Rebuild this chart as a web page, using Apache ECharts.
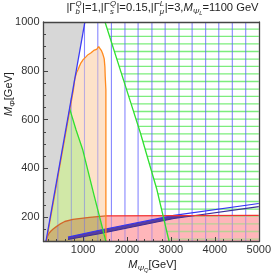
<!DOCTYPE html>
<html><head><meta charset="utf-8">
<script src="https://cdn.jsdelivr.net/npm/echarts@6/dist/echarts.min.js"></script>
<style>html,body{margin:0;padding:0;background:#fff}#c{width:274px;height:275px}</style>
</head><body><div id="c"></div>
<script>
// ---------------- data ----------------
const xRange = [100, 5000];
const yRange = [100, 1000];
const xTickLabels = [1000, 2000, 3000, 4000, 5000];
const yTickLabels = [200, 400, 600, 800, 1000];

// blue diagonal boundary (gray region is to its left)
const diagonalLine = [[155, 100], [1042, 1000]];
const grayRegion = [[100, 100], [155, 100], [1042, 1000], [100, 1000]];

// orange region: along the diagonal, noisy top, vertical right edge
const orangeRegion = [[165, 100], [780, 722], [810, 765], [850, 792], [882, 803], [915, 818],
  [945, 830], [970, 836], [995, 844], [1015, 841], [1035, 852], [1060, 856], [1085, 861],
  [1107, 865], [1125, 862], [1150, 870], [1183, 874], [1205, 881], [1228, 877], [1258, 885],
  [1285, 891], [1310, 888], [1335, 896], [1354, 899], [1370, 903], [1386, 892], [1415, 884],
  [1444, 872], [1468, 858], [1482, 849], [1498, 815], [1505, 776], [1520, 721], [1520, 100]];

// green filled region (left of the green curve, right of the diagonal)
const greenRegion = [[155, 100], [693, 646], [840, 558], [995, 475], [1250, 290], [1520, 100]];
// green boundary on the right (horizontal mesh to its right)
const greenRightLine = [[1500, 1000], [2042, 694], [2306, 545], [2493, 429], [2681, 313], [2960, 100]];

// pink / red region top boundary
const pinkTop = [[160, 100], [175, 115], [220, 132], [270, 143], [320, 151], [400, 162], [471, 171],
  [583, 182], [770, 191], [1143, 199], [1520, 205], [5000, 207]];

// thin purple band
const bandUpper = [[657, 118], [1370, 146], [3068, 207], [5000, 256]];
const bandLower = [[657, 108], [1370, 132], [3068, 194], [5000, 243]];

// mesh lines
const verticalMeshX = [426, 734, 1033, 1336, 1646, 1954, 2253, 2568, 2869, 3184, 3483, 3791, 4090, 4398, 4703];
const horizontalMeshY = [971, 941, 910, 879, 848, 818, 787, 756, 725, 695, 664, 633, 602, 572, 541,
  510, 479, 449, 418, 387, 356, 326, 295, 264, 233, 203, 172, 141, 110];

// ---------------- helpers ----------------
const FONT = '"Liberation Sans", Arial, Helvetica, sans-serif';
const FRAME = '#444';

function interpX(line, y) {
  for (let i = 0; i < line.length - 1; i++) {
    const a = line[i], b = line[i + 1];
    if ((y - a[1]) * (y - b[1]) <= 0 && a[1] !== b[1]) return a[0] + (y - a[1]) / (b[1] - a[1]) * (b[0] - a[0]);
  }
  return null;
}
function interpY(line, x) {
  for (let i = 0; i < line.length - 1; i++) {
    const a = line[i], b = line[i + 1];
    if ((x - a[0]) * (x - b[0]) <= 0 && a[0] !== b[0]) return a[1] + (x - a[0]) / (b[0] - a[0]) * (b[1] - a[1]);
  }
  return x < line[0][0] ? line[0][1] : line[line.length - 1][1];
}
function clipPoly(subject, clip) { // Sutherland–Hodgman, clip convex
  let area = 0;
  for (let i = 0; i < clip.length; i++) { const p = clip[i], q = clip[(i + 1) % clip.length]; area += p[0] * q[1] - q[0] * p[1]; }
  const s = area > 0 ? 1 : -1;
  let out = subject.slice();
  for (let i = 0; i < clip.length && out.length; i++) {
    const a = clip[i], b = clip[(i + 1) % clip.length];
    const inside = p => s * ((b[0] - a[0]) * (p[1] - a[1]) - (b[1] - a[1]) * (p[0] - a[0])) >= 0;
    const inter = (p, q) => {
      const d = (p[0] - q[0]) * (a[1] - b[1]) - (p[1] - q[1]) * (a[0] - b[0]);
      const t = ((p[0] - a[0]) * (a[1] - b[1]) - (p[1] - a[1]) * (a[0] - b[0])) / d;
      return [p[0] + t * (q[0] - p[0]), p[1] + t * (q[1] - p[1])];
    };
    const inp = out; out = [];
    for (let j = 0; j < inp.length; j++) {
      const cur = inp[j], prev = inp[(j + inp.length - 1) % inp.length];
      const ci = inside(cur), pi = inside(prev);
      if (ci) { if (!pi) out.push(inter(prev, cur)); out.push(cur); }
      else if (pi) out.push(inter(prev, cur));
    }
  }
  return out;
}
function inPoly(p, poly) {
  let c = false;
  for (let i = 0, j = poly.length - 1; i < poly.length; j = i++) {
    const a = poly[i], b = poly[j];
    if (((a[1] > p[1]) !== (b[1] > p[1])) && (p[0] < (b[0] - a[0]) * (p[1] - a[1]) / (b[1] - a[1]) + a[0])) c = !c;
  }
  return c;
}

const pinkRegion = pinkTop.concat([[xRange[1], yRange[0]]]);
const orangeEdgeX = Math.max(...orangeRegion.map(p => p[0]));
const orangeLowerQuad = [orangeRegion[0], orangeRegion[1], [orangeEdgeX, orangeRegion[1][1]], [orangeEdgeX, yRange[0]]];
const salmonRegion = clipPoly(pinkRegion, orangeLowerQuad);
const oliveRegion = clipPoly(pinkRegion, greenRegion);
const bandRegion = bandUpper.concat(bandLower.slice().reverse());
const bandInPink = clipPoly(bandRegion, pinkRegion);

const fills = [
  { poly: pinkRegion, rgb: [255, 182, 186] },
  { poly: orangeRegion, rgb: [253, 226, 201] },
  { poly: salmonRegion, rgb: [248, 185, 166] },
  { poly: greenRegion, rgb: [209, 232, 167] },
  { poly: oliveRegion, rgb: [203, 181, 120] }
];
const rgbStr = c => 'rgb(' + c.map(Math.round).join(',') + ')';
const mix = (a, b, t) => a.map((v, i) => v * (1 - t) + b[i] * t);
function zoneAt(p) { for (let k = fills.length - 1; k >= 0; k--) if (inPoly(p, fills[k].poly)) return k; return -1; }
// split a mesh line into pieces according to the fill zone underneath
function zoneSegments(p0, p1, n) {
  const out = []; let start = p0, zPrev = null, last = p0;
  for (let i = 0; i <= n; i++) {
    const t = i / n, p = [p0[0] + (p1[0] - p0[0]) * t, p0[1] + (p1[1] - p0[1]) * t];
    const mid = i === 0 ? p : [(p[0] + last[0]) / 2, (p[1] + last[1]) / 2];
    const z = zoneAt(mid);
    if (zPrev === null) zPrev = z;
    if (z !== zPrev) { out.push([start[0], start[1], last[0], last[1], zPrev]); start = last; zPrev = z; }
    last = p;
  }
  out.push([start[0], start[1], p1[0], p1[1], zPrev]);
  return out;
}

function polygonSeries(points, style, z) {
  return {
    type: 'custom', coordinateSystem: 'cartesian2d', xAxisIndex: 0, yAxisIndex: 0, silent: true,
    clip: true, z: z, animation: false, data: [points[0]],
    renderItem: (params, api) => ({ type: 'polygon', shape: { points: points.map(p => api.coord(p)) }, style: style })
  };
}
function lineSeries(points, color, width, z) {
  return {
    type: 'line', xAxisIndex: 0, yAxisIndex: 0, data: points, symbol: 'none', silent: true, clip: true,
    animation: false, z: z, lineStyle: { color: color, width: width }
  };
}
function meshSeries(segments, baseRgb, whiteAlpha, fillT, width, z) {
  return {
    type: 'custom', coordinateSystem: 'cartesian2d', xAxisIndex: 0, yAxisIndex: 0, silent: true, clip: true,
    z: z, animation: false, data: segments,
    renderItem: (params, api) => {
      const a = api.coord([api.value(0), api.value(1)]), b = api.coord([api.value(2), api.value(3)]);
      const zone = api.value(4);
      const stroke = zone < 0 ? 'rgba(' + baseRgb.join(',') + ',' + whiteAlpha + ')' : rgbStr(mix(fills[zone].rgb, baseRgb, fillT));
      return { type: 'line', shape: { x1: a[0], y1: a[1], x2: b[0], y2: b[1] }, style: { stroke: stroke, lineWidth: width } };
    }
  };
}

const series = [];
series.push(polygonSeries(grayRegion, { fill: '#d7d7d7' }, 1));
fills.forEach((f, i) => series.push(polygonSeries(f.poly, { fill: rgbStr(f.rgb) }, 2 + i)));

// horizontal green mesh (right of the green right boundary)
let hSegs = [];
horizontalMeshY.forEach(y => { hSegs = hSegs.concat(zoneSegments([interpX(greenRightLine, y), y], [xRange[1], y], 300)); });
series.push(meshSeries(hSegs, [110, 235, 110], 0.9, 0.5, 1.3, 10));
// vertical blue mesh (right of the diagonal)
let vSegs = [];
verticalMeshX.forEach(x => { vSegs = vSegs.concat(zoneSegments([x, yRange[0]], [x, Math.min(yRange[1], interpY(diagonalLine, x))], 300)); });
series.push(meshSeries(vSegs, [95, 95, 255], 0.75, 0.42, 1.1, 11));

// purple band
series.push(polygonSeries(bandInPink, { fill: '#5a3d9e' }, 20));
series.push(lineSeries(bandLower, '#3b2d96', 1.1, 21));
series.push(lineSeries(bandUpper, '#3434f0', 1.1, 21));

// pink top boundary: dark orange inside the orange region, red outside
series.push(lineSeries(pinkTop.filter(p => p[0] <= orangeEdgeX), '#d2662a', 1.3, 22));
series.push(lineSeries(pinkTop.filter(p => p[0] >= orangeEdgeX), '#f23030', 1.3, 22));
// orange boundary
series.push(lineSeries(orangeRegion, '#ff8a1e', 1.3, 23));
// green boundaries
series.push(lineSeries(greenRegion.slice(1), '#2fe02f', 1.3, 24));
series.push(lineSeries(greenRightLine, '#2fe02f', 1.3, 24));
// blue diagonal
series.push(lineSeries(diagonalLine, '#3a3af5', 1.3, 25));

// minor tick positions
const xMinor = [], yMinor = [];
for (let v = 200; v < 5000; v += 200) if (v % 1000) xMinor.push(v);
for (let v = 150; v < 1000; v += 50) if (v % 200) yMinor.push(v);

// ---------------- math-like text built from positioned text pieces ----------------
const mctx = document.createElement('canvas').getContext('2d');
function fontStr(size, italic) { return (italic ? 'italic ' : '') + size + 'px ' + FONT; }
function measure(t, size, italic) { mctx.font = fontStr(size, italic); return mctx.measureText(t).width; }
function mathGraphic(tokens, cx, cy, rotation) {
  let x = 0; const els = [];
  tokens.forEach(tok => {
    if (tok.stack) {
      const w = Math.max(...tok.stack.map(s => measure(s.t, s.size, s.italic)));
      tok.stack.forEach(s => els.push(Object.assign({ x: x }, s)));
      x += w + 0.5;
    } else {
      els.push(Object.assign({ x: x }, tok));
      x += measure(tok.t, tok.size, tok.italic);
    }
  });
  const width = x;
  return {
    type: 'group', x: cx, y: cy, rotation: rotation || 0, silent: true,
    children: els.map(e => ({
      type: 'text', x: e.x - width / 2, y: e.dy || 0,
      style: { text: e.t, font: fontStr(e.size, e.italic), fill: '#222', textAlign: 'left', textVerticalAlign: 'middle', align: 'left', verticalAlign: 'middle' }
    }))
  };
}
const T = 11.2, S = 7.8;
const titleTokens = [
  { t: '|Γ', size: T },
  { stack: [{ t: 'Q', size: S, italic: true, dy: -3.8 }, { t: 'b', size: S, italic: true, dy: 3.6 }] },
  { t: '|=1,|Γ', size: T },
  { stack: [{ t: 'Q', size: S, italic: true, dy: -3.8 }, { t: 's', size: S, italic: true, dy: 3.6 }] },
  { t: '|=0.15,|Γ', size: T },
  { stack: [{ t: 'L', size: S, italic: true, dy: -3.8 }, { t: 'μ', size: S, italic: true, dy: 3.6 }] },
  { t: '|=3,', size: T },
  { t: 'M', size: T, italic: true },
  { t: 'Ψ', size: S, italic: true, dy: 3.4 },
  { t: 'L', size: 5.8, italic: true, dy: 5.6 },
  { t: '=1100 GeV', size: T }
];
const xNameTokens = [
  { t: 'M', size: 11, italic: true },
  { t: 'Ψ', size: 7.8, italic: true, dy: 3.4 },
  { t: 'Q', size: 5.8, italic: true, dy: 5.6 },
  { t: '[GeV]', size: 11 }
];
const yNameTokens = [
  { t: 'M', size: 11, italic: true },
  { t: 'Φ', size: 7.8, italic: true, dy: 3.4 },
  { t: '[GeV]', size: 11 }
];

const chart = echarts.init(document.getElementById('c'), null, { renderer: 'canvas', width: 274, height: 275 });
const axisCommon = { splitLine: { show: false }, z: 50 };
const plain = v => String(v);
chart.setOption({
  animation: false,
  backgroundColor: '#ffffff',
  grid: { left: 43.5, right: 12.5, top: 22, bottom: 33.5, containLabel: false },
  xAxis: [
    Object.assign({
      type: 'value', min: xRange[0], max: xRange[1], position: 'bottom',
      axisLine: { show: true, onZero: false, lineStyle: { color: FRAME, width: 1.3 } },
      axisTick: { show: true, inside: true, length: 4.5, customValues: xTickLabels, lineStyle: { color: FRAME, width: 1 } },
      axisLabel: { show: true, customValues: xTickLabels, formatter: plain, color: '#333', fontSize: 11, fontFamily: FONT, margin: 3 }
    }, axisCommon),
    Object.assign({
      type: 'value', min: xRange[0], max: xRange[1], position: 'bottom',
      axisLine: { show: false, onZero: false },
      axisTick: { show: true, inside: true, length: 2.5, customValues: xMinor, lineStyle: { color: FRAME, width: 1 } },
      axisLabel: { show: false }
    }, axisCommon),
    Object.assign({
      type: 'value', min: xRange[0], max: xRange[1], position: 'top',
      axisLine: { show: true, onZero: false, lineStyle: { color: FRAME, width: 1.3 } },
      axisTick: { show: false }, axisLabel: { show: false }
    }, axisCommon)
  ],
  yAxis: [
    Object.assign({
      type: 'value', min: yRange[0], max: yRange[1], position: 'left',
      axisLine: { show: true, onZero: false, lineStyle: { color: FRAME, width: 1.3 } },
      axisTick: { show: true, inside: true, length: 4.5, customValues: yTickLabels, lineStyle: { color: FRAME, width: 1 } },
      axisLabel: { show: true, customValues: yTickLabels, formatter: plain, color: '#333', fontSize: 11, fontFamily: FONT, margin: 4 }
    }, axisCommon),
    Object.assign({
      type: 'value', min: yRange[0], max: yRange[1], position: 'left',
      axisLine: { show: false, onZero: false },
      axisTick: { show: true, inside: true, length: 2.5, customValues: yMinor, lineStyle: { color: FRAME, width: 1 } },
      axisLabel: { show: false }
    }, axisCommon),
    Object.assign({
      type: 'value', min: yRange[0], max: yRange[1], position: 'right',
      axisLine: { show: true, onZero: false, lineStyle: { color: FRAME, width: 1.3 } },
      axisTick: { show: false }, axisLabel: { show: false }
    }, axisCommon)
  ],
  series: series,
  graphic: [
    mathGraphic(titleTokens, 162.5, 8),
    mathGraphic(xNameTokens, 152.5, 265),
    mathGraphic(yNameTokens, 9, 94, Math.PI / 2)
  ]
});
</script>
</body></html>
